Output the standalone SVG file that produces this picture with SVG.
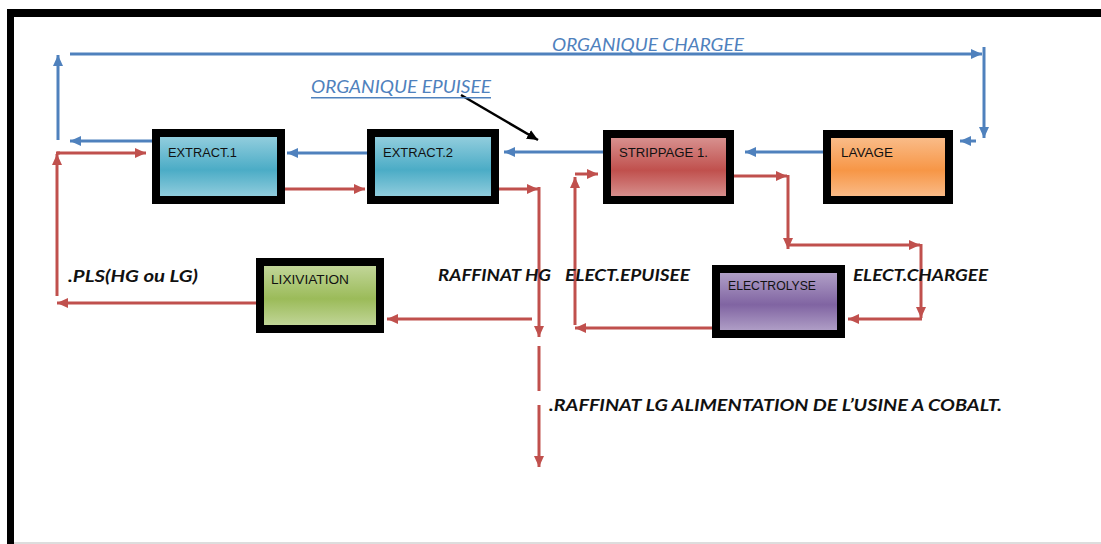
<svg xmlns="http://www.w3.org/2000/svg" width="1101" height="544" viewBox="0 0 1101 544">
<style>
.box{stroke:#000;stroke-width:8;stroke-linejoin:miter}
.lbl{font-family:"Liberation Sans",Arial,sans-serif;font-size:12.5px;fill:#111}
.it{font-family:Lato,"Liberation Sans",sans-serif;font-style:italic;font-weight:bold;font-size:17px;fill:#111}
.org{font-family:Lato,"Liberation Sans",sans-serif;font-style:italic;font-size:17px;fill:#4F81BD}
.b{stroke:#4F81BD;stroke-width:3;fill:none;marker-end:url(#ab)}
.r{stroke:#C0504D;stroke-width:3;fill:none;marker-end:url(#ar)}
.rn{stroke:#C0504D;stroke-width:3;fill:none}
</style>
<defs>
<marker id="ab" markerUnits="userSpaceOnUse" markerWidth="12" markerHeight="10" refX="11" refY="5" orient="auto"><path d="M0,0 L11,5 L0,10 z" fill="#4F81BD"/></marker>
<marker id="ar" markerUnits="userSpaceOnUse" markerWidth="12" markerHeight="10" refX="11" refY="5" orient="auto"><path d="M0,0 L11,5 L0,10 z" fill="#C0504D"/></marker>
<marker id="ak" markerUnits="userSpaceOnUse" markerWidth="12" markerHeight="10" refX="11" refY="5" orient="auto"><path d="M0,0 L11,5 L0,10 z" fill="#000"/></marker>
<linearGradient id="gBlue" x1="0" y1="0" x2="0" y2="1"><stop offset="0" stop-color="#9AD1E0"/><stop offset="0.55" stop-color="#4BACC6"/><stop offset="1" stop-color="#9AD1E0"/></linearGradient>
<linearGradient id="gRed" x1="0" y1="0" x2="0" y2="1"><stop offset="0" stop-color="#DA9896"/><stop offset="0.55" stop-color="#C0504D"/><stop offset="1" stop-color="#DA9896"/></linearGradient>
<linearGradient id="gOr" x1="0" y1="0" x2="0" y2="1"><stop offset="0" stop-color="#FAC090"/><stop offset="0.55" stop-color="#F79646"/><stop offset="1" stop-color="#FAC090"/></linearGradient>
<linearGradient id="gGr" x1="0" y1="0" x2="0" y2="1"><stop offset="0" stop-color="#C6D9A0"/><stop offset="0.55" stop-color="#9BBB59"/><stop offset="1" stop-color="#C6D9A0"/></linearGradient>
<linearGradient id="gPu" x1="0" y1="0" x2="0" y2="1"><stop offset="0" stop-color="#B6A6CB"/><stop offset="0.55" stop-color="#8064A2"/><stop offset="1" stop-color="#B6A6CB"/></linearGradient>
</defs>
<rect width="1101" height="544" fill="#fff"/>
<g id="frame">
<rect x="7" y="9" width="1094" height="8" fill="#000"/>
<rect x="7" y="9" width="7" height="535" fill="#000"/>
<rect x="14" y="542" width="1087" height="2" fill="#ddd"/>
</g>
<g id="connectors">
<path class="b" d="M58,140 V55"/>
<path class="b" d="M70,54 H982"/>
<path class="b" d="M984,47 V138"/>
<path class="b" d="M976,141 H960"/>
<path class="b" d="M823,152 H745"/>
<path class="b" d="M603,152 H504"/>
<path class="b" d="M367,153 H287"/>
<path class="b" d="M152,141 H70"/>
<path class="r" d="M57,296 V154"/>
<path class="rn" d="M57,153 H60"/>
<path class="r" d="M56,153 H146"/>
<path class="r" d="M285,189 H365"/>
<path class="r" d="M499,189 H538"/>
<path class="r" d="M539,187 V337"/>
<path class="r" d="M532,319 H387"/>
<path class="r" d="M256,303 H57"/>
<path class="rn" d="M539,346 V391"/>
<path class="r" d="M539,405 V467"/>
<path class="r" d="M712,328 H575"/>
<path class="r" d="M575,325 V177"/>
<path class="r" d="M575,174 H598"/>
<path class="r" d="M734,176 H787"/>
<path class="r" d="M788,175 V249"/>
<path class="r" d="M787,245 H920"/>
<path class="r" d="M921,244 V318"/>
<path class="r" d="M922,319 H848"/>
<path d="M461,95 L538,140" stroke="#000" stroke-width="2.5" fill="none" marker-end="url(#ak)"/>
</g>
<g id="extract1"><rect class="box" x="156" y="133" width="125" height="67" fill="url(#gBlue)"/><text class="lbl" x="168" y="157" textLength="69" lengthAdjust="spacingAndGlyphs">EXTRACT.1</text></g>
<g id="extract2"><rect class="box" x="371" y="133" width="124" height="67" fill="url(#gBlue)"/><text class="lbl" x="383" y="157" textLength="70" lengthAdjust="spacingAndGlyphs">EXTRACT.2</text></g>
<g id="strippage"><rect class="box" x="607" y="134" width="123" height="66" fill="url(#gRed)"/><text class="lbl" x="619" y="157" textLength="89" lengthAdjust="spacingAndGlyphs">STRIPPAGE 1.</text></g>
<g id="lavage"><rect class="box" x="827" y="134" width="122" height="66" fill="url(#gOr)"/><text class="lbl" x="841" y="157" textLength="52" lengthAdjust="spacingAndGlyphs">LAVAGE</text></g>
<g id="lixiviation"><rect class="box" x="260" y="262" width="120" height="67" fill="url(#gGr)"/><text class="lbl" x="271" y="284" textLength="78" lengthAdjust="spacingAndGlyphs">LIXIVIATION</text></g>
<g id="electrolyse"><rect class="box" x="716" y="269" width="125" height="65" fill="url(#gPu)"/><text class="lbl" x="728" y="290" textLength="88" lengthAdjust="spacingAndGlyphs">ELECTROLYSE</text></g>
<g id="labels">
<text class="org" x="552" y="51" textLength="192" lengthAdjust="spacingAndGlyphs">ORGANIQUE CHARGEE</text>
<text class="org" x="311" y="93" textLength="180" lengthAdjust="spacingAndGlyphs">ORGANIQUE EPUISEE</text>
<rect x="311" y="97" width="180" height="1.5" fill="#4F81BD"/>
<text class="it" x="68" y="282" textLength="130" lengthAdjust="spacingAndGlyphs">.PLS(HG ou LG)</text>
<text class="it" x="438" y="281" textLength="113" lengthAdjust="spacingAndGlyphs">RAFFINAT HG</text>
<text class="it" x="565" y="281" textLength="125" lengthAdjust="spacingAndGlyphs">ELECT.EPUISEE</text>
<text class="it" x="853" y="281" textLength="135" lengthAdjust="spacingAndGlyphs">ELECT.CHARGEE</text>
<text class="it" x="549" y="411" textLength="453" lengthAdjust="spacingAndGlyphs">.RAFFINAT LG ALIMENTATION DE L’USINE A COBALT.</text>
</g>
</svg>
